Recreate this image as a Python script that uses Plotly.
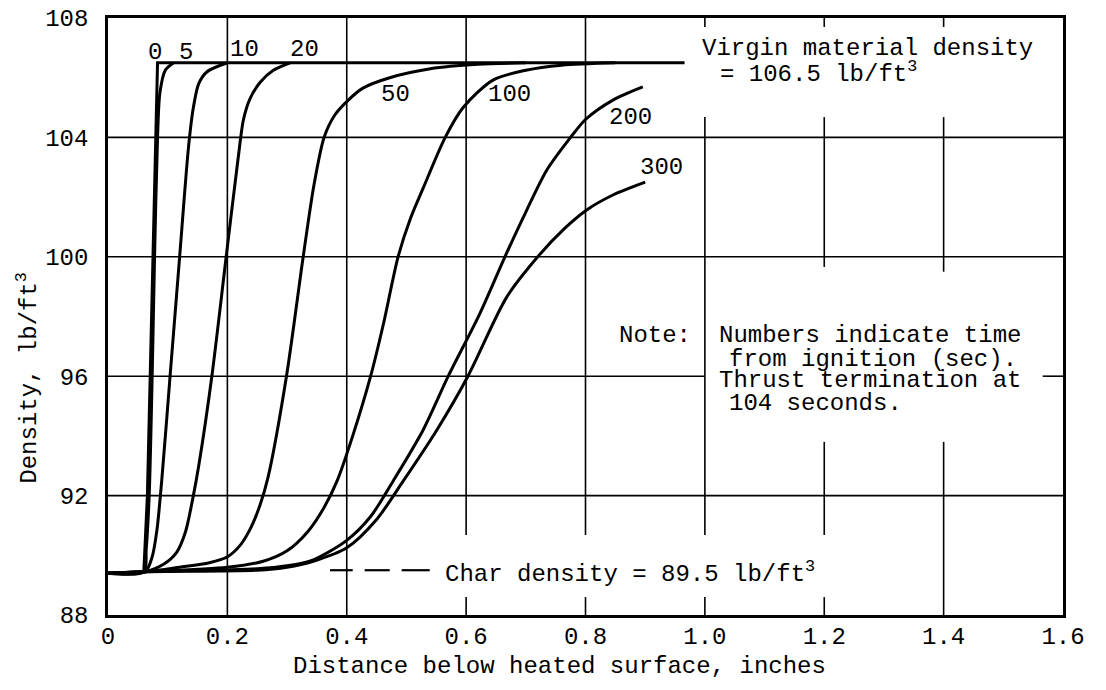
import plotly.graph_objects as go

# ---------------- data ----------------
times = ["0", "5", "10", "20", "50", "100", "200", "300"]

x_t0 = [0, 0.060, 0.066, 0.071, 0.075, 0.0805, 0.083, 0.40, 0.966]
rho_t0 = [89.4, 89.45, 92.0, 96.0, 100.0, 104.0, 106.5, 106.5, 106.5]

x_t5 = [0, 0.060, 0.064, 0.069, 0.074, 0.078, 0.083, 0.087, 0.096, 0.110]
rho_t5 = [89.4, 89.45, 90.2, 92.0, 96.0, 100.0, 104.0, 105.5, 106.25, 106.5]

x_t10 = [0, 0.062, 0.074, 0.082, 0.090, 0.104, 0.120, 0.135, 0.143, 0.152, 0.166, 0.200]
rho_t10 = [89.4, 89.45, 89.95, 90.85, 92.5, 96.0, 100.0, 103.7, 105.0, 105.8, 106.2, 106.5]

x_t20 = [0, 0.062, 0.093, 0.115, 0.130, 0.142, 0.152, 0.174, 0.198, 0.218, 0.227, 0.238,
         0.255, 0.277, 0.305]
rho_t20 = [89.4, 89.45, 89.7, 90.1, 90.8, 91.9, 93.0, 96.0, 100.0, 103.3, 104.6, 105.3,
           105.85, 106.25, 106.5]

x_t50 = [0, 0.062, 0.120, 0.170, 0.200, 0.222, 0.240, 0.255, 0.268, 0.299, 0.327, 0.345,
         0.362, 0.380, 0.400, 0.427, 0.472, 0.540, 0.620, 0.700]
rho_t50 = [89.4, 89.45, 89.6, 89.75, 89.95, 90.35, 90.95, 91.7, 92.6, 96.0, 100.0, 102.4,
           104.0, 104.75, 105.2, 105.65, 106.0, 106.3, 106.45, 106.5]

x_t100 = [0, 0.062, 0.200, 0.260, 0.300, 0.335, 0.362, 0.384, 0.410, 0.440, 0.462, 0.486,
          0.507, 0.528, 0.565, 0.595, 0.645, 0.700, 0.760, 0.850]
rho_t100 = [89.4, 89.45, 89.6, 89.8, 90.15, 90.8, 91.6, 92.5, 94.0, 96.0, 97.8, 100.0,
            101.3, 102.3, 104.0, 105.0, 105.92, 106.25, 106.42, 106.5]

x_t200 = [0, 0.062, 0.250, 0.300, 0.344, 0.400, 0.440, 0.478, 0.528, 0.570, 0.623, 0.665,
          0.700, 0.735, 0.775, 0.800, 0.846, 0.896]
rho_t200 = [89.4, 89.45, 89.55, 89.65, 89.85, 90.5, 91.3, 92.5, 94.2, 96.0, 98.1, 100.0,
            101.5, 102.9, 104.0, 104.6, 105.25, 105.69]

x_t300 = [0, 0.062, 0.250, 0.300, 0.344, 0.400, 0.450, 0.495, 0.551, 0.603, 0.668, 0.720,
          0.765, 0.802, 0.846, 0.900]
rho_t300 = [89.4, 89.45, 89.5, 89.6, 89.8, 90.25, 91.2, 92.5, 94.2, 96.0, 98.65, 100.0,
            100.95, 101.57, 102.07, 102.5]

# curve label positions (x, density)
label_x = [0.079, 0.131, 0.229, 0.330, 0.481, 0.672, 0.876, 0.928]
label_y = [106.83, 106.83, 106.93, 106.93, 105.45, 105.45, 104.68, 103.0]

x_ticks = [0, 0.2, 0.4, 0.6, 0.8, 1.0, 1.2, 1.4, 1.6]
x_ticktext = ["0", "0.2", "0.4", "0.6", "0.8", "1.0", "1.2", "1.4", "1.6"]
y_ticks = [88, 92, 96, 100, 104, 108]
y_ticktext = ["88", "92", "96", "100", "104", "108"]

virgin_density = 106.5
char_density = 89.5

# ---------------- figure ----------------
FONT = "Liberation Mono, Courier New, monospace"
FS = 24

curves = [
    (x_t0, rho_t0, "linear"),
    (x_t5, rho_t5, "spline"),
    (x_t10, rho_t10, "spline"),
    (x_t20, rho_t20, "spline"),
    (x_t50, rho_t50, "spline"),
    (x_t100, rho_t100, "spline"),
    (x_t200, rho_t200, "spline"),
    (x_t300, rho_t300, "spline"),
]

fig = go.Figure()
for (xs, ys, shp), name in zip(curves, times):
    fig.add_trace(go.Scatter(
        x=xs, y=ys, mode="lines", name=name,
        line=dict(color="black", width=3, shape=shp, smoothing=0.8),
        hoverinfo="skip", showlegend=False))

# grid lines drawn as segments (some interrupted by the text blocks)
v_grid = {
    0.2: [(88, 108)],
    0.4: [(88, 108)],
    0.6: [(90.68, 108), (88, 88.6)],
    0.8: [(90.68, 108), (88, 88.6)],
    1.0: [(107.7, 108), (90.68, 104.68), (88, 88.6)],
    1.2: [(107.7, 108), (99.66, 104.68), (90.68, 93.8), (88, 88.6)],
    1.4: [(107.7, 108), (99.5, 104.68), (88, 93.8)],
}
h_grid = {
    92: [(0, 1.6)],
    96: [(0, 1.0), (1.566, 1.6)],
    100: [(0, 1.6)],
    104: [(0, 1.6)],
}
shapes = []
for xv, segs in v_grid.items():
    for y0, y1 in segs:
        shapes.append(dict(type="line", xref="x", yref="y", x0=xv, x1=xv, y0=y0, y1=y1,
                           line=dict(color="black", width=1.6), layer="below"))
for yv, segs in h_grid.items():
    for x0, x1 in segs:
        shapes.append(dict(type="line", xref="x", yref="y", x0=x0, x1=x1, y0=yv, y1=yv,
                           line=dict(color="black", width=1.6), layer="below"))

# char density dashed key
for x0, x1 in [(0.372, 0.410), (0.430, 0.472), (0.492, 0.539)]:
    shapes.append(dict(type="line", xref="x", yref="y", x0=x0, x1=x1,
                       y0=char_density, y1=char_density,
                       line=dict(color="black", width=2.2)))

annotations = []
for t, lx, ly in zip(times, label_x, label_y):
    annotations.append(dict(x=lx, y=ly, xref="x", yref="y", text=t, showarrow=False,
                            font=dict(family=FONT, size=FS, color="black"),
                            xanchor="center", yanchor="middle"))


def txt(x, y, s, anchor="left"):
    annotations.append(dict(x=x, y=y, xref="x", yref="y", text=s, showarrow=False,
                            font=dict(family=FONT, size=FS, color="black"),
                            xanchor=anchor, yanchor="middle"))


txt(0.992, 106.98, "Virgin material density")
txt(1.022, 106.19, "= %.1f lb/ft<sup>3</sup>" % virgin_density)
txt(0.852, 97.35, "Note:")
txt(1.020, 97.35, "Numbers indicate time")
txt(1.037, 96.55, "from ignition (sec).")
txt(1.020, 95.84, "Thrust termination at")
txt(1.037, 95.07, "104 seconds.")
txt(0.561, 89.44, "Char density = %.1f lb/ft<sup>3</sup>" % char_density)

annotations.append(dict(x=0.473, y=-0.087, xref="paper", yref="paper",
                        text="Distance below heated surface, inches", showarrow=False,
                        font=dict(family=FONT, size=FS, color="black"),
                        xanchor="center", yanchor="middle"))
annotations.append(dict(x=-0.084, y=0.397, xref="paper", yref="paper",
                        text="Density, lb/ft<sup>3</sup>", showarrow=False, textangle=-90,
                        font=dict(family=FONT, size=FS, color="black"),
                        xanchor="center", yanchor="middle"))

# page body has an 8px margin, so the figure is shifted accordingly
fig.update_layout(
    width=1098, height=682, autosize=False,
    margin=dict(l=100, r=43, t=10, b=75, autoexpand=False),
    paper_bgcolor="white", plot_bgcolor="white",
    shapes=shapes, annotations=annotations,
    xaxis=dict(range=[0, 1.6], tickvals=x_ticks, ticktext=x_ticktext,
               showgrid=False, zeroline=False, showline=True, mirror=True,
               linecolor="black", linewidth=2.5, ticks="", ticklabelstandoff=-3,
               ticklabeloverflow="allow",
               tickfont=dict(family=FONT, size=FS, color="black")),
    yaxis=dict(range=[88, 108], tickvals=y_ticks, ticktext=y_ticktext,
               showgrid=False, zeroline=False, showline=True, mirror=True,
               linecolor="black", linewidth=2.5, ticks="", ticklabelstandoff=12,
               ticklabeloverflow="allow",
               tickfont=dict(family=FONT, size=FS, color="black")),
)

fig.write_html("out.html")
